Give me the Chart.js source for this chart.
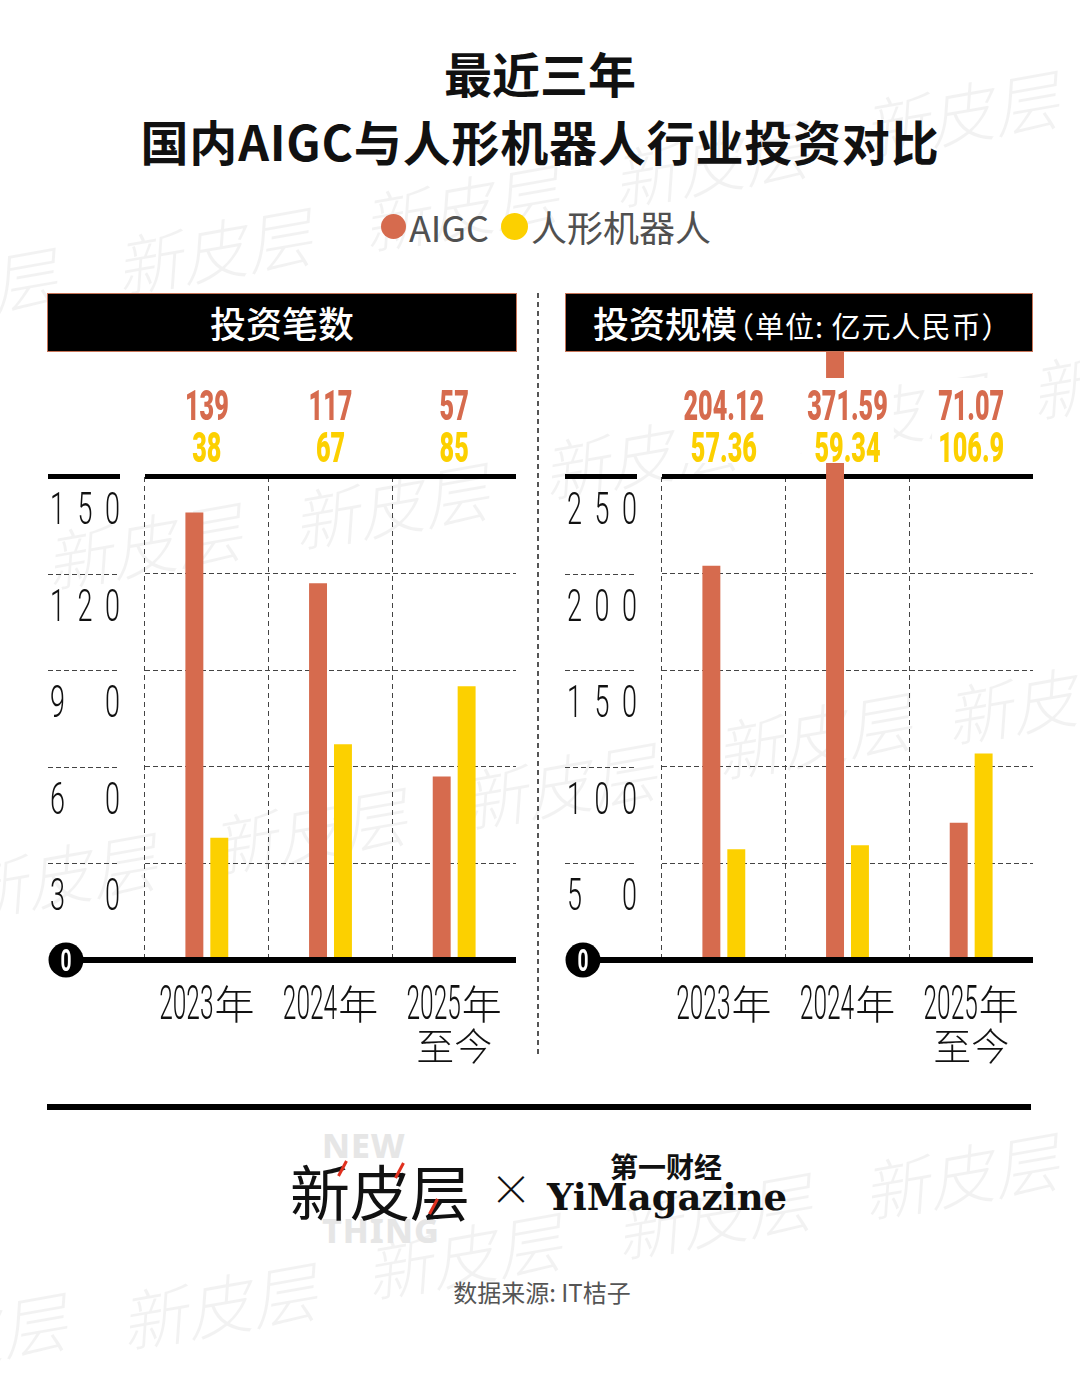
<!DOCTYPE html>
<html lang="zh-CN">
<head>
<meta charset="utf-8">
<script src="https://cdn.jsdelivr.net/npm/chart.js@4.4.1/dist/chart.umd.min.js"></script>
<style>
  html, body { margin: 0; padding: 0; background: #fff; }
  body {
    width: 1080px; height: 1380px; position: relative; overflow: hidden;
    font-family: "Noto Sans CJK SC", "Noto Sans", sans-serif; color: #111;
  }
  .wm {
    position: absolute; font-size: 66px; line-height: 90px; font-weight: 300;
    color: rgba(0, 0, 0, 0.05); white-space: nowrap; font-style: italic;
    transform: rotate(-10deg); transform-origin: left center; z-index: 0;
  }
  #title {
    position: absolute; left: 0; top: 38px; width: 1080px; text-align: center;
    font-weight: 700; font-size: 48px; line-height: 68px; z-index: 2;
  }
  #title .l2 { letter-spacing: 0.8px; }
  #legend {
    position: absolute; left: 10px; top: 201px; width: 1084px; height: 50px;
    display: flex; justify-content: center; align-items: center; z-index: 2;
    font-size: 36px; font-weight: 400; color: #505050;
  }
  #legend .dot { display: inline-block; border-radius: 50%; margin-right: 3px; }
  #legend .item { display: flex; align-items: center; margin-right: 12px; }
  .head {
    position: absolute; top: 293px; height: 59px; box-sizing: border-box;
    background: #000; border: 1px solid #c87457; color: #fff; z-index: 2;
    font-size: 36px; font-weight: 500; line-height: 56px; white-space: nowrap;
  }
  .head small { font-size: 29px; font-weight: 400; margin-left: -12px; letter-spacing: 1px; }
  .panel { position: absolute; top: 352px; width: 490px; height: 723px; z-index: 1; }
  #divider {
    position: absolute; left: 537px; top: 293px; width: 1.5px; height: 762px;
    background: repeating-linear-gradient(to bottom, #555 0 5px, transparent 5px 9px);
  }
  #rule { position: absolute; left: 47px; top: 1104px; width: 984px; height: 6px; background: #000; }
  .ghost { position: absolute; font-family: "Noto Sans", sans-serif; font-weight: 800; font-size: 34px; color: #e6e6e6; letter-spacing: 1px; }
  #brand1 { position: absolute; left: 290px; top: 1150px; font-size: 60px; line-height: 80px; font-weight: 400; color: #111; }
  .slash { position: absolute; width: 3px; height: 17px; background: #e0301e; transform: rotate(28deg); }
  #times { position: absolute; left: 490px; top: 1162px; font-size: 42px; line-height: 50px; font-weight: 200; }
  #brand2a { position: absolute; left: 610px; top: 1146px; font-size: 28px; line-height: 40px; font-weight: 700; }
  #brand2b { position: absolute; left: 547px; top: 1172px; font-family: "DejaVu Serif", serif; font-weight: 700; font-size: 37px; line-height: 50px; }
  #source { position: absolute; left: 0; top: 1276px; width: 1084px; text-align: center; font-size: 24px; line-height: 32px; color: #555; }
</style>
</head>
<body>
<div id="watermarks"></div>
<div id="title">最近三年<br><span class="l2">国内AIGC与人形机器人行业投资对比</span></div>
<div id="legend"></div>

<div class="head" style="left:47px;width:470px;text-align:center;">投资笔数</div>
<div class="head" style="left:565px;width:468px;padding-left:27px;">投资规模<small>（单位: 亿元人民币）</small></div>
<div id="divider"></div>

<div class="panel" style="left:40px;"><canvas id="countChart" width="490" height="723"></canvas></div>
<div class="panel" style="left:557px;"><canvas id="amountChart" width="490" height="723"></canvas></div>

<div id="rule"></div>
<div class="ghost" style="left:322px;top:1122px;">NEW</div>
<div class="ghost" style="left:322px;top:1207px;">THING</div>
<div id="brand1">新皮层</div>
<div class="slash" style="left:341px;top:1160px;"></div>
<div class="slash" style="left:398px;top:1162px;"></div>
<div class="slash" style="left:432px;top:1198px;"></div>
<div id="times">×</div>
<div id="brand2a">第一财经</div>
<div id="brand2b">YiMagazine</div>
<div id="source">数据来源: IT桔子</div>

<script>
// chart data
const years = [['2023年'], ['2024年'], ['2025年', '至今']];
const seriesNames = ['AIGC', '人形机器人'];
const seriesColors = ['#d66b4e', '#fcd000'];
const dealCountAIGC = [139, 117, 57];
const dealCountRobot = [38, 67, 85];
const amountAIGC = [204.12, 371.59, 71.07];
const amountRobot = [57.36, 59.34, 106.9];
const countTicks = [0, 30, 60, 90, 120, 150];
const amountTicks = [0, 50, 100, 150, 200, 250];

// faint background watermark
const wmSpots = [
  [-140, 305], [115, 265], [362, 222], [612, 178], [862, 128],
  [45, 560], [292, 520], [542, 470], [792, 430], [1030, 390],
  [-40, 890], [210, 845], [460, 800], [715, 750], [945, 715],
  [-130, 1350], [120, 1320], [365, 1270], [615, 1230], [862, 1190]
];
document.getElementById('watermarks').innerHTML = wmSpots.map(([l, c]) =>
  `<span class="wm" style="left:${l}px;top:${c - 45}px;">新皮层</span>`).join('');

// legend
document.getElementById('legend').innerHTML = seriesNames.map((name, i) => `
  <span class="item"><span class="dot" style="width:${25 + i * 2}px;height:${25 + i * 2}px;background:${seriesColors[i]}"></span>${name}</span>
`).join('');

const THIN = '300 45px Roboto, "DejaVu Sans", sans-serif';
const YEAR = '300 49px Roboto, "DejaVu Sans", sans-serif';
const CJK_YEAR = '300 40px "Noto Sans CJK SC", sans-serif';
const CJK_LINE2 = '300 38px "Noto Sans CJK SC", sans-serif';
const VALUE = '900 42px Roboto, "DejaVu Sans", sans-serif';
const BADGE = '700 31px Roboto, "DejaVu Sans", sans-serif';

// draw text squeezed horizontally, baseline at y
function condensed(ctx, text, x, y, font, sx, align) {
  ctx.save();
  ctx.font = font;
  const w = ctx.measureText(text).width * sx;
  let left = x;
  if (align === 'center') left = x - w / 2;
  else if (align === 'right') left = x - w;
  ctx.translate(left, y);
  ctx.scale(sx, 1);
  ctx.textAlign = 'left';
  ctx.textBaseline = 'alphabetic';
  ctx.fillText(text, 0, 0);
  ctx.restore();
  return w;
}

const panelDecor = {
  id: 'panelDecor',
  beforeDatasetsDraw(chart) {
    const { ctx, chartArea: a } = chart;
    ctx.save();
    ctx.fillStyle = '#000';
    ctx.fillRect(8, a.top - 3, 72, 5);
    ctx.fillRect(a.left, a.top - 3, a.right - a.left, 5);
    ctx.restore();
  },
  afterDraw(chart) {
    const { ctx, chartArea: a, scales: { x, y } } = chart;
    ctx.save();

    // dashed rules under the tick labels
    ctx.strokeStyle = '#444';
    ctx.lineWidth = 1;
    ctx.setLineDash([5, 3]);
    y.ticks.forEach(t => {
      if (t.value === 0 || t.value === y.max) return;
      const py = Math.round(y.getPixelForValue(t.value)) + 0.5;
      ctx.beginPath(); ctx.moveTo(8, py); ctx.lineTo(80, py); ctx.stroke();
    });
    ctx.setLineDash([]);

    // tick labels spread over the label column
    ctx.fillStyle = '#111';
    y.ticks.forEach(t => {
      if (t.value === 0) return;
      const digits = String(t.value).split('');
      const by = y.getPixelForValue(t.value) + 47;
      digits.forEach((d, i) => {
        if (i === 0) condensed(ctx, d, 10, by, THIN, 0.6, 'left');
        else if (i === digits.length - 1) condensed(ctx, d, 80, by, THIN, 0.6, 'right');
        else condensed(ctx, d, 45, by, THIN, 0.6, 'center');
      });
    });

    // zero line with badge
    const zy = y.getPixelForValue(0);
    ctx.fillStyle = '#000';
    ctx.fillRect(26, zy - 3, a.right - 26, 6);
    ctx.beginPath(); ctx.arc(26, zy, 17.5, 0, Math.PI * 2); ctx.fill();
    ctx.fillStyle = '#fff';
    condensed(ctx, '0', 26, zy + 11, BADGE, 0.62, 'center');

    // values above the plot
    const [d0, d1] = chart.data.datasets;
    chart.data.labels.forEach((lab, i) => {
      const cx = x.getPixelForValue(i);
      const t0 = String(d0.data[i]), t1 = String(d1.data[i]);
      ctx.font = VALUE;
      const w = Math.max(ctx.measureText(t0).width, ctx.measureText(t1).width) * 0.6;
      ctx.fillStyle = '#fff';
      ctx.fillRect(cx - w / 2 - 6, 26, w + 12, 85);
      ctx.fillStyle = d0.backgroundColor;
      condensed(ctx, t0, cx, 68, VALUE, 0.6, 'center');
      ctx.fillStyle = d1.backgroundColor;
      condensed(ctx, t1, cx, 110, VALUE, 0.6, 'center');
    });

    // category labels
    ctx.fillStyle = '#111';
    chart.data.labels.forEach((lines, i) => {
      const cx = x.getPixelForValue(i);
      const m = lines[0].match(/^(\d+)(.*)$/);
      ctx.font = YEAR;
      const wd = ctx.measureText(m[1]).width * 0.5;
      ctx.font = CJK_YEAR;
      const wc = ctx.measureText(m[2]).width;
      const left = cx - (wd + wc + 1) / 2;
      condensed(ctx, m[1], left, zy + 59, YEAR, 0.5, 'left');
      condensed(ctx, m[2], left + wd + 1, zy + 59, CJK_YEAR, 1, 'left');
      if (lines[1]) condensed(ctx, lines[1], cx, zy + 100, CJK_LINE2, 1, 'center');
    });

    ctx.restore();
  }
};

function makeChart(id, aigc, robot, ticks) {
  const top = ticks[ticks.length - 1];
  return new Chart(document.getElementById(id), {
    type: 'bar',
    data: {
      labels: years,
      datasets: [
        { label: seriesNames[0], data: aigc, backgroundColor: seriesColors[0] },
        { label: seriesNames[1], data: robot, backgroundColor: seriesColors[1] }
      ]
    },
    options: {
      responsive: false,
      animation: false,
      clip: false,
      categoryPercentage: 0.403,
      barPercentage: 0.72,
      borderWidth: 0,
      layout: { padding: { top: 125, right: 14, left: 0, bottom: 0 } },
      plugins: { legend: { display: false }, tooltip: { enabled: false } },
      scales: {
        x: {
          offset: true,
          ticks: { display: false },
          grid: {
            offset: true, drawTicks: false, lineWidth: 1,
            color: c => c.index < years.length ? '#444' : 'rgba(0,0,0,0)'
          },
          border: { display: false, dash: [5, 4] },
          afterFit: s => { s.height = 115; }
        },
        y: {
          min: 0, max: top,
          ticks: { display: false },
          afterBuildTicks: s => { s.ticks = ticks.map(v => ({ value: v })); },
          grid: {
            drawTicks: false, lineWidth: 1,
            color: c => (!c.tick || c.tick.value === 0 || c.tick.value === top) ? 'rgba(0,0,0,0)' : '#444'
          },
          border: { display: false, dash: [5, 3] },
          z: 1,
          afterFit: s => { s.width = 105; }
        }
      }
    },
    plugins: [panelDecor]
  });
}

makeChart('countChart', dealCountAIGC, dealCountRobot, countTicks);
makeChart('amountChart', amountAIGC, amountRobot, amountTicks);
</script>
</body>
</html>
